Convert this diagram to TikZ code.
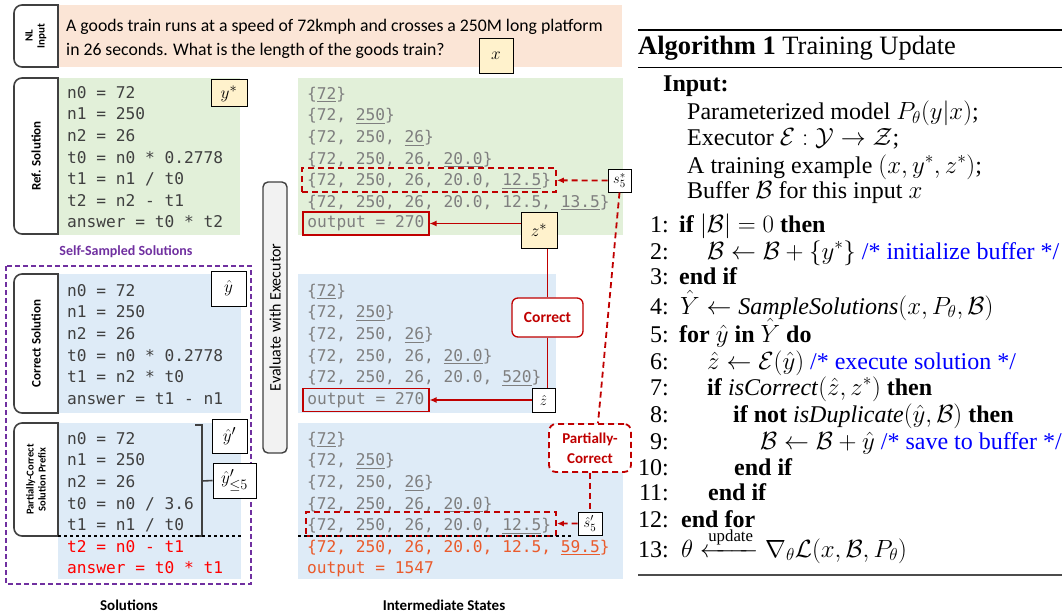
\documentclass[tikz,border=0pt]{standalone}
\usepackage{amsmath,amssymb}
\usepackage{fontspec}
\setmainfont{Liberation Serif}
\newfontfamily\calibri{Carlito}
\newfontfamily\consol{DejaVu Sans Mono}
\usetikzlibrary{arrows.meta}
\definecolor{pinkbg}{HTML}{FBE5D6}
\definecolor{greenbg}{HTML}{E2F0D9}
\definecolor{bluebg}{HTML}{DEEBF7}
\definecolor{yellowbg}{HTML}{FFF2CC}
\definecolor{darkred}{HTML}{C00000}
\definecolor{purp}{HTML}{7030A0}
\definecolor{codegray}{HTML}{404040}
\definecolor{stategray}{HTML}{7F7F7F}
\definecolor{wrongred}{HTML}{FF0000}
\definecolor{wrongorange}{HTML}{EA5B2C}
\tikzset{
        code/.style={anchor=north west, inner sep=0pt, align=left, text=codegray,
                font=\consol\fontsize{16.2}{21.6}\selectfont},
        states/.style={code, text=stategray},
        tab/.style={draw=codegray, line width=1.6pt, fill=white},
        tabtext/.style={rotate=90, align=center, inner sep=0pt,
                font=\calibri\bfseries\fontsize{13}{13.5}\selectfont},
        varbox/.style={draw=black, line width=1pt, fill=white, inner sep=0pt,
                font=\fontsize{19}{22}\selectfont},
        smallvar/.style={varbox, font=\fontsize{15}{17}\selectfont},
        outbox/.style={draw=darkred, line width=1.5pt, anchor=west, inner xsep=4.5pt,
                inner ysep=0pt, minimum height=23pt, text=stategray,
                font=\consol\fontsize{16.2}{21.6}\selectfont},
        redbox/.style={draw=darkred, dashed, dash pattern=on 6pt off 4pt, line width=1.8pt},
        redline/.style={draw=darkred, line width=1.3pt},
        label/.style={font=\calibri\bfseries\fontsize{15}{17}\selectfont},
        alg/.style={anchor=base west, inner sep=0pt, font=\fontsize{24}{26.5}\selectfont},
        algno/.style={anchor=base east, inner sep=0pt, font=\fontsize{24}{26.5}\selectfont}
    }

\begin{document}
\begin{tikzpicture}[x=1pt,y=-1pt]
\useasboundingbox (0,0) rectangle (1062,615);

% panels
\fill[pinkbg] (58,5) rectangle (622,67);
\fill[greenbg] (58,78) rectangle (240,235);
\fill[greenbg] (298,78) rectangle (623,235);
\fill[bluebg] (58,274) rectangle (241,413);
\fill[bluebg] (298,274) rectangle (556,413);
\fill[bluebg] (58,423) rectangle (241,579);
\fill[bluebg] (298,423) rectangle (623,579);
\draw[purp, line width=1.6pt, dash pattern=on 5pt off 3pt] (6,266) rectangle (251,584);

% tabs
\draw[tab] (58,5) [rounded corners=8pt] -- (14,5) -- (14,67) [sharp corners] -- (58,67) -- cycle;
\draw[tab] (58,78) [rounded corners=8pt] -- (14,78) -- (14,234) [sharp corners] -- (58,234) -- cycle;
\draw[tab] (58,274) [rounded corners=8pt] -- (14,274) -- (14,413) [sharp corners] -- (58,413) -- cycle;
\draw[tab] (58,423) [rounded corners=8pt] -- (14,423) -- (14,536) [sharp corners] -- (58,536) -- cycle;
\draw (36,36) node(TNL)[tabtext, font=\calibri\bfseries\fontsize{11}{12}\selectfont]{NL\\Input};
\draw (36,156) node(TREF)[tabtext]{Ref. Solution};
\draw (36,343.5) node(TCOR)[tabtext]{Correct Solution};
\draw (36,479.5) node(TPAR)[tabtext, font=\calibri\bfseries\fontsize{10.5}{12}\selectfont]{Partially-Correct\\Solution Prefix};

% NL input
\draw (66,15) node(NL)[anchor=north west, inner sep=0pt, align=left,
        font=\calibri\fontsize{17.7}{23.5}\selectfont]{\strut A goods train runs at a speed of 72kmph and crosses a 250M long platform\\
        \strut in 26 seconds. What is the length of the goods train?};
\draw (496,56) node(X)[varbox, fill=yellowbg, minimum width=34pt, minimum height=35pt]{$x$};

% solutions
\draw (67,82.9) node(REFCODE)[code]{\strut n0 = 72\\ \strut n1 = 250\\ \strut n2 = 26\\
        \strut t0 = n0 * 0.2778\\ \strut t1 = n1 / t0\\ \strut t2 = n2 - t1\\ \strut answer = t0 * t2};
\draw (229,93.5) node(YSTAR)[varbox, fill=yellowbg, minimum width=36pt, minimum height=27pt]{$y^*$};
\draw (126,252) node(SELF)[label, text=purp, font=\calibri\bfseries\fontsize{14}{16}\selectfont]{Self-Sampled Solutions};

\draw (67,280.9) node(CORCODE)[code]{\strut n0 = 72\\ \strut n1 = 250\\ \strut n2 = 26\\
        \strut t0 = n0 * 0.2778\\ \strut t1 = n2 * t0\\ \strut answer = t1 - n1};
\draw (228.5,288.5) node(YHAT)[varbox, minimum width=35pt, minimum height=35pt]{$\hat{y}$};

\draw (67,428.9) node(PARCODE)[code]{\strut n0 = 72\\ \strut n1 = 250\\ \strut n2 = 26\\
        \strut t0 = n0 / 3.6\\ \strut t1 = n1 / t0\\
        \strut\textcolor{wrongred}{t2 = n0 - t1}\\ \strut\textcolor{wrongred}{answer = t0 * t1}};
\draw (229.5,436) node(YPRIME)[varbox, minimum width=35pt, minimum height=34pt]{$\hat{y}'$};
\draw (234.5,480.5) node(YPLE)[varbox, minimum width=43pt, minimum height=35pt]{$\hat{y}'_{\le 5}$};
\draw[line width=1.6pt, codegray] (195,425) -- (202,425) -- (202,536) -- (195,536);
\draw[line width=1.6pt, codegray] (202,481) -- (YPLE.west);
\draw (129,605) node(SOL)[label]{Solutions};

% executor
\draw (275,317.5) node(EVAL)[draw=codegray, line width=1.4pt, fill=black!5, rounded corners=5pt,
        rotate=90, minimum width=271pt, minimum height=24pt, inner sep=0pt,
        font=\calibri\fontsize{16}{18}\selectfont]{Evaluate with Executor};

% intermediate states
\draw (307,83.9) node(REFST)[states]{\strut\{\underline{72}\}\\ \strut\{72, \underline{250}\}\\
        \strut\{72, 250, \underline{26}\}\\ \strut\{72, 250, 26, \underline{20.0}\}\\
        \strut\{72, 250, 26, 20.0, \underline{12.5}\}\\ \strut\{72, 250, 26, 20.0, 12.5, \underline{13.5}\}};
\draw (302,223.5) node(OUT1)[outbox]{output = 270};
\draw (429,180) node(BOX1)[redbox, minimum width=254pt, minimum height=24pt]{};
\draw (619.5,180.5) node(S5STAR)[smallvar, minimum width=23pt, minimum height=23pt]{$s^*_5$};
\draw (539,230) node(ZSTAR)[varbox, fill=yellowbg, minimum width=36pt, minimum height=36pt]{$z^*$};

\draw (307,280.9) node(CORST)[states]{\strut\{\underline{72}\}\\ \strut\{72, \underline{250}\}\\
        \strut\{72, 250, \underline{26}\}\\ \strut\{72, 250, 26, \underline{20.0}\}\\
        \strut\{72, 250, 26, 20.0, \underline{520}\}};
\draw (302,400) node(OUT2)[outbox]{output = 270};
\draw (543.5,400) node(ZHAT)[smallvar, minimum width=23pt, minimum height=24pt]{$\hat{z}$};
\draw (547.5,317.5) node(CORR)[redline, fill=white, rounded corners=6pt, minimum width=71pt,
        minimum height=39pt, text=darkred, font=\calibri\bfseries\fontsize{15.5}{17}\selectfont]{Correct};

\draw (307,428.9) node(PARST)[states]{\strut\{\underline{72}\}\\ \strut\{72, \underline{250}\}\\
        \strut\{72, 250, \underline{26}\}\\ \strut\{72, 250, 26, \underline{20.0}\}\\
        \strut\{72, 250, 26, 20.0, \underline{12.5}\}\\
        \strut\textcolor{wrongorange}{\{72, 250, 26, 20.0, 12.5, \underline{59.5}\}}\\
        \strut\textcolor{wrongorange}{output = 1547}};
\draw (431,524) node(BOX2)[redbox, minimum width=250pt, minimum height=24pt]{};
\draw (590,523.5) node(SHAT)[smallvar, minimum width=24pt, minimum height=23pt]{$\hat{s}'_5$};
\draw (590,448) node(PC)[redbox, fill=white, rounded corners=7pt, minimum width=82pt, minimum height=48pt,
        align=center, text=darkred, font=\calibri\bfseries\fontsize{15}{20}\selectfont]{Partially-\\Correct};
\draw[dashed, line width=1.2pt] (58,536) -- (241,536);
\draw[dashed, line width=1.2pt] (298,536) -- (572,536);
\draw (444,605) node(INTER)[label]{Intermediate States};

% connectors
\draw[redline, -{Latex[length=7pt,width=6pt]}] (ZSTAR.west |- OUT1.east) -- (OUT1.east);
\draw[redline, -{Latex[length=7pt,width=6pt]}] (ZHAT) -- (OUT2);
\draw[redline] (CORR.north) -- (CORR.north |- ZSTAR.south);
\draw[redline] (CORR.south) -- (CORR.south |- ZHAT.north);
\draw[redline, line width=1.8pt, dash pattern=on 6pt off 4pt, -{Latex[length=7pt,width=6pt]}] (S5STAR) -- (BOX1);
\draw[redline, line width=1.8pt, dash pattern=on 6pt off 4pt, -{Latex[length=7pt,width=6pt]}] (SHAT) -- (BOX2);
\draw[redline, line width=1.8pt, dash pattern=on 6pt off 4pt] (S5STAR.south) -- ([xshift=8pt]PC.north);
\draw[redline, line width=1.8pt, dash pattern=on 6pt off 4pt] (PC.south) -- (SHAT.north);

% algorithm
\draw[line width=1.6pt] (638,30) -- (1062,30);
\draw[line width=0.8pt] (638,67) -- (1062,67);
\draw[line width=1.2pt, black!70] (638,575) -- (1062,575);
\draw (638,55) node(TITLE)[alg, font=\fontsize{26.5}{28}\selectfont]{\textbf{Algorithm 1} Training Update};
\draw (663,92) node(INP)[alg]{\textbf{Input:}};
\draw (687,120) node(IN1)[alg]{Parameterized model $P_\theta(y|x)$;};
\draw (687,146) node(IN2)[alg]{Executor $\mathcal{E}:\mathcal{Y}\rightarrow\mathcal{Z}$;};
\draw (687,173) node(IN3)[alg]{A training example $(x,y^*,z^*)$;};
\draw (687,198) node(IN4)[alg]{Buffer $\mathcal{B}$ for this input $x$};
\foreach \n/\yy in {1/232,2/259,3/284,4/314,5/342,6/369,7/395,8/422,9/449,10/475,11/500,12/527,13/557}
        \draw (669,\yy) node(NUM\n)[algno]{\n:};
\draw (679,232) node(L1)[alg]{\textbf{if} $|\mathcal{B}|=0$ \textbf{then}};
\draw (707,259) node(L2)[alg]{$\mathcal{B}\leftarrow\mathcal{B}+\{y^*\}$ \textcolor{blue}{/* initialize buffer */}};
\draw (679,284) node(L3)[alg]{\textbf{end if}};
\draw (680,314) node(L4)[alg]{$\hat{Y}\leftarrow \textit{SampleSolutions}(x,P_\theta,\mathcal{B})$};
\draw (679,342) node(L5)[alg]{\textbf{for} $\hat{y}$ \textbf{in} $\hat{Y}$ \textbf{do}};
\draw (707,369) node(L6)[alg]{$\hat{z}\leftarrow\mathcal{E}(\hat{y})$ \textcolor{blue}{/* execute solution */}};
\draw (707,395) node(L7)[alg]{\textbf{if} \textit{isCorrect}$(\hat{z},z^*)$ \textbf{then}};
\draw (733,422) node(L8)[alg]{\textbf{if not} \textit{isDuplicate}$(\hat{y},\mathcal{B})$ \textbf{then}};
\draw (760,449) node(L9)[alg]{$\mathcal{B}\leftarrow\mathcal{B}+\hat{y}$ \textcolor{blue}{/* save to buffer */}};
\draw (734,475) node(L10)[alg]{\textbf{end if}};
\draw (708,500) node(L11)[alg]{\textbf{end if}};
\draw (681,527) node(L12)[alg]{\textbf{end for}};
\draw (681,557) node(L13)[alg]{$\theta\xleftarrow{\text{update}}\nabla_\theta\mathcal{L}(x,\mathcal{B},P_\theta)$};

\end{tikzpicture}
\end{document}
